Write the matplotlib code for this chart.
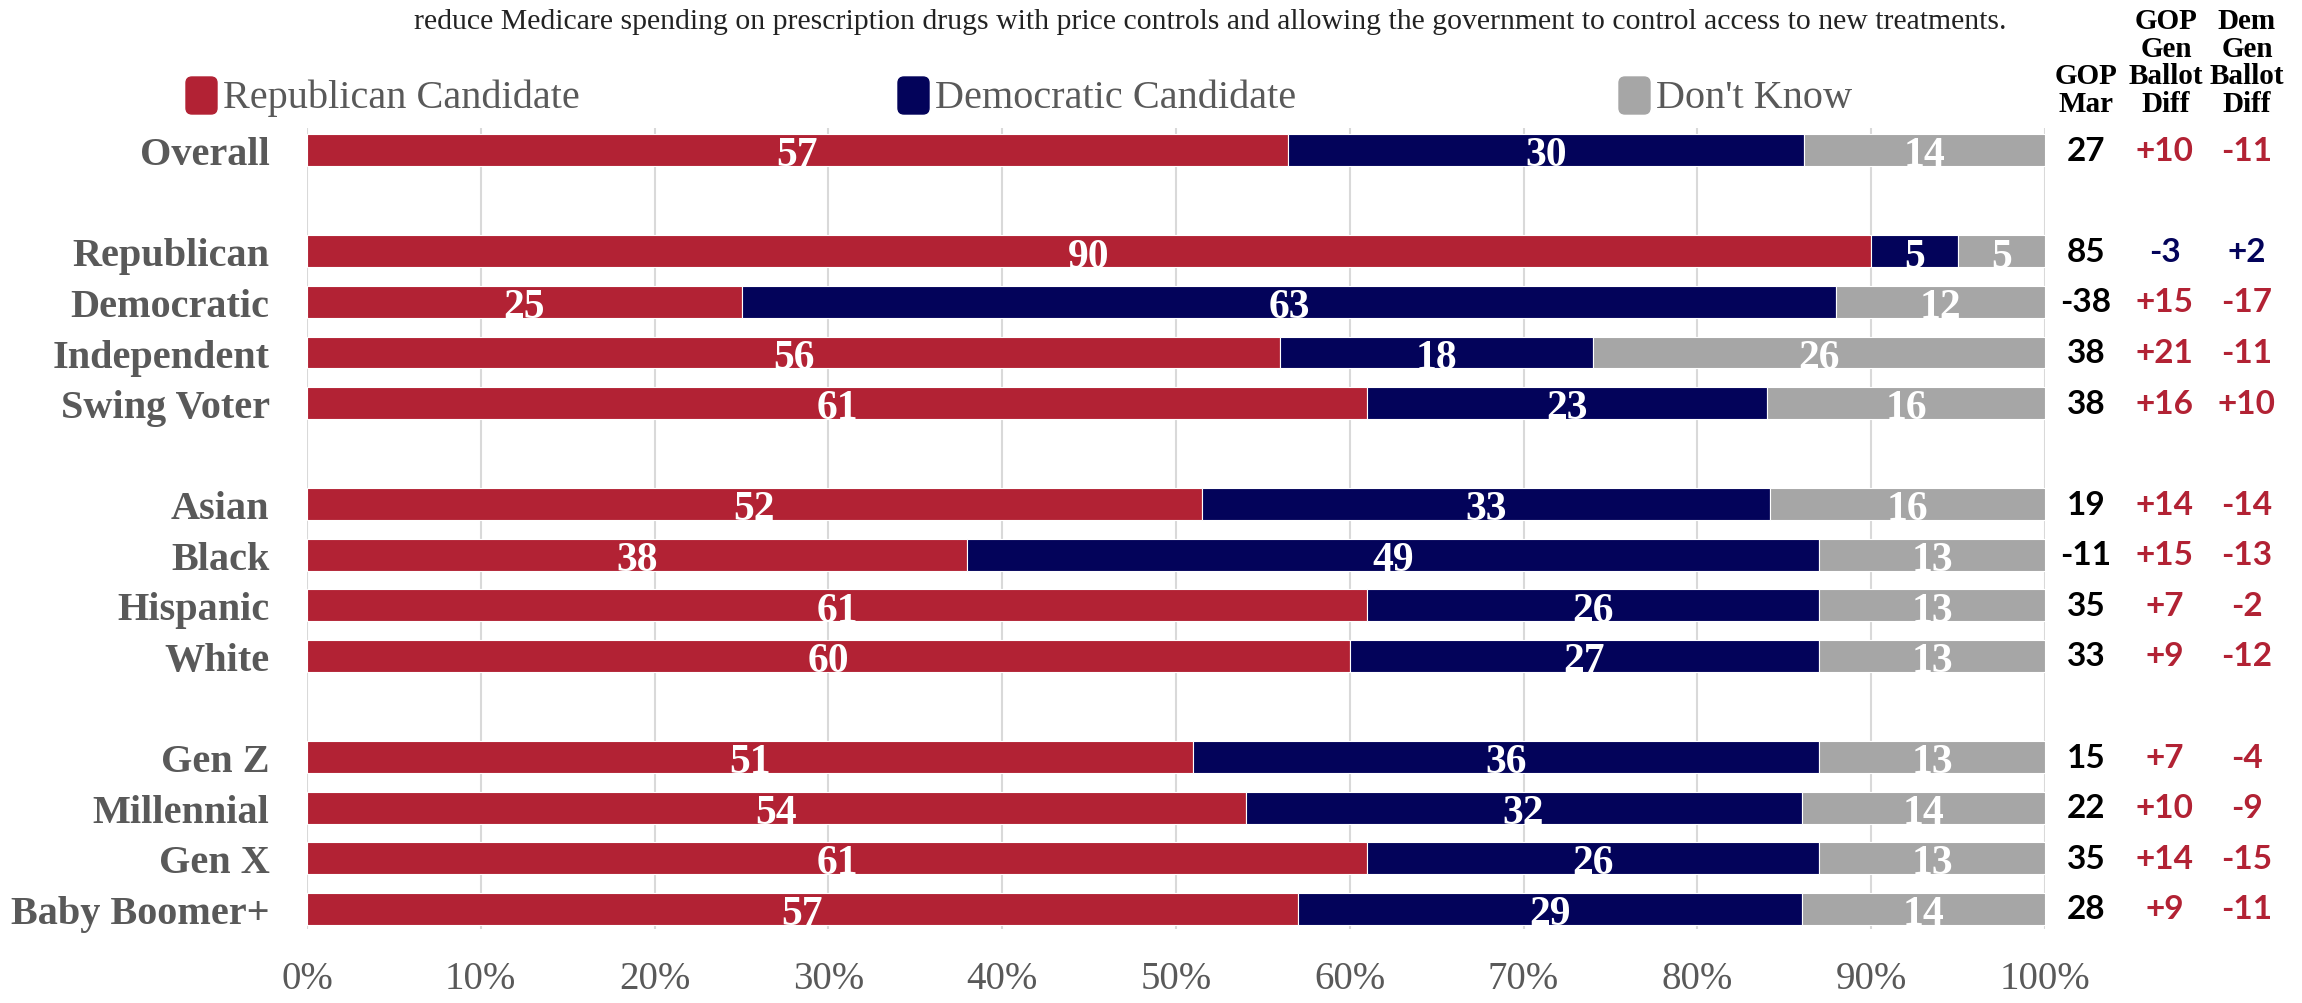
import numpy as np
import matplotlib.pyplot as plt
from matplotlib.patches import FancyBboxPatch
from matplotlib.transforms import IdentityTransform, blended_transform_factory

# data
groups = ['Overall', 'Republican', 'Democratic', 'Independent', 'Swing Voter',
          'Asian', 'Black', 'Hispanic', 'White',
          'Gen Z', 'Millennial', 'Gen X', 'Baby Boomer+']
slots = [0, 2, 3, 4, 5, 7, 8, 9, 10, 12, 13, 14, 15]
rep = [57, 90, 25, 56, 61, 52, 38, 61, 60, 51, 54, 61, 57]
dem = [30, 5, 63, 18, 23, 33, 49, 26, 27, 36, 32, 26, 29]
dk = [14, 5, 12, 26, 16, 16, 13, 13, 13, 13, 14, 13, 14]
gop_mar = ['27', '85', '-38', '38', '38', '19', '-11', '35', '33', '15', '22', '35', '28']
gop_diff = ['+10', '-3', '+15', '+21', '+16', '+14', '+15', '+7', '+9', '+7', '+10', '+14', '+9']
dem_diff = ['-11', '+2', '-17', '-11', '+10', '-14', '-13', '-2', '-12', '-4', '-9', '-15', '-11']
ticks = np.arange(0, 101, 10)
series = ['Republican Candidate', 'Democratic Candidate', "Don't Know"]

RED = '#B22234'
NAVY = '#03035A'
GRAY = '#A6A6A6'
TXT = '#595959'
SERIF = ['Liberation Serif', 'DejaVu Serif']
SANS = ['Lato', 'DejaVu Sans']

plt.rcParams['font.family'] = SERIF

fig = plt.figure(figsize=(23.02, 10.04), dpi=100)
ax = fig.add_axes([307/2302, 74/1004, (2045-307)/2302, 801/1004])

vals = np.array([rep, dem, dk], dtype=float)
norm = vals / vals.sum(axis=0) * 100
left = np.zeros(len(groups))
for k, col in enumerate([RED, NAVY, GRAY]):
    ax.barh(slots, norm[k], left=left, height=0.63, color=col,
            edgecolor='white', linewidth=0.8, zorder=2)
    for y, l, w, v in zip(slots, left, norm[k], vals[k]):
        ax.text(l + w/2, y + 0.30, f'{int(v)}', ha='center', va='baseline',
                color='white', fontsize=30, fontweight='bold', zorder=3)
    left += norm[k]

ax.set_xlim(0, 100)
ax.set_ylim(15.4, -0.44)
ax.set_xticks(ticks)
ax.set_xticklabels([f'{t}%' for t in ticks], fontsize=28, color=TXT)
ax.set_yticks(slots)
ax.set_yticklabels(groups, fontsize=29, fontweight='bold', color=TXT)
ax.tick_params(axis='x', length=0, pad=22)
ax.tick_params(axis='y', length=0, pad=27)
ax.grid(axis='x', color='#d9d9d9', linewidth=1.5, zorder=0)
ax.set_axisbelow(True)
for s in ax.spines.values():
    s.set_visible(False)

# right-hand columns
tr = blended_transform_factory(ax.transAxes, ax.transData)
cols_x = [1.0236, 1.069, 1.116]
for y, g, a, b, c in zip(slots, groups, gop_mar, gop_diff, dem_diff):
    dcol = NAVY if g == 'Republican' else RED
    for cx, s, col in zip(cols_x, [a, b, c], ['black', dcol, dcol]):
        ax.text(cx, y, s, transform=tr, ha='center', va='center', fontsize=24,
                fontweight='bold', family=SANS, color=col, clip_on=False)

hy = 1 - 118/1004
hdr = dict(ha='center', va='bottom', fontsize=21, fontweight='bold', linespacing=1.03)
fig.text(2086/2302, hy, 'GOP\nMar', **hdr)
fig.text(2166/2302, hy, 'GOP\nGen\nBallot\nDiff', **hdr)
fig.text(2247/2302, hy, 'Dem\nGen\nBallot\nDiff', **hdr)

# subtitle (top line partially cut in the original)
fig.text(1210/2302, 1 - 22/1004,
         'reduce Medicare spending on prescription drugs with price controls and '
         'allowing the government to control access to new treatments.',
         ha='center', va='center', fontsize=21.4, color='#222222')

# legend
for mx, name, col in zip([186, 898, 1619], series, [RED, NAVY, GRAY]):
    fig.patches.append(FancyBboxPatch((mx, 1004-115), 31, 37,
                                      boxstyle='round,pad=0,rounding_size=6',
                                      transform=IdentityTransform(), color=col,
                                      figure=fig))
    fig.text((mx + 37)/2302, 1 - 98/1004, name, ha='left', va='center',
             fontsize=29, color=TXT)

plt.savefig('out.png', dpi=100)
